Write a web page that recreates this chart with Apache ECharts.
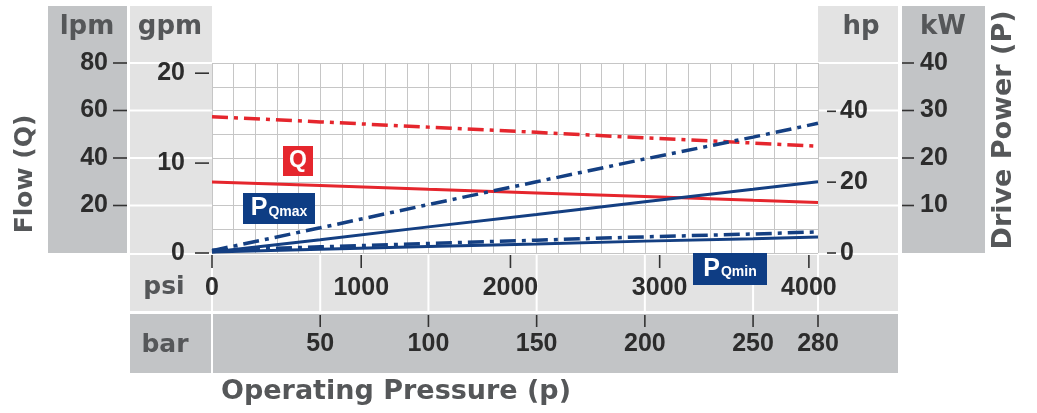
<!DOCTYPE html>
<html><head><meta charset="utf-8">
<script src="https://cdn.jsdelivr.net/npm/echarts@6/dist/echarts.min.js"></script>
<style>html,body{margin:0;padding:0;background:#fff}#c{width:1037px;height:413px}</style>
</head><body><div id="c"></div>
<script>
// ---- data ----
const pressureBar = [0, 50, 100, 150, 200, 250, 280];           // x positions (bar)
const flowQmax    = [57.4, 55.2, 53.0, 50.8, 48.5, 46.3, 45.0];  // lpm, red dash-dot
const flowQmin    = [29.9, 28.4, 26.8, 25.3, 23.8, 22.2, 21.3];  // lpm, red solid
const powerQmaxA  = [0.5, 5.3, 10.2, 15.0, 19.8, 24.4, 27.3];    // kW, blue dash-dot upper
const powerQmaxB  = [0.2, 2.8, 5.5, 8.1, 10.8, 13.4, 15.0];      // kW, blue solid upper
const powerQminA  = [0.6, 1.3, 2.0, 2.7, 3.4, 4.0, 4.45];        // kW, blue dash-dot lower
const powerQminB  = [0.2, 0.8, 1.35, 1.9, 2.5, 3.0, 3.35];       // kW, blue solid lower
const psiTicks = [0, 1000, 2000, 3000, 4000];
const barTicks = [50, 100, 150, 200, 250, 280];
const lpmTicks = [20, 40, 60, 80];
const gpmTicks = [0, 10, 20];
const hpTicks  = [0, 20, 40];
const kwTicks  = [10, 20, 30, 40];
const BAR_MAX = 280, LPM_MAX = 80, KW_MAX = 40;
const PSI_PER_BAR = 14.5038, LPM_PER_GPM = 3.78541, KW_PER_HP = 0.745700;

const RED = '#e5262d', BLUE = '#143f82';
const NUM_FONT = 'Liberation Sans, Arial, sans-serif';
const TITLE_FONT = 'DejaVu Sans, sans-serif';
const numLabel = {fontFamily: NUM_FONT, fontSize: 25, fontWeight: 'bold', color: '#2c2c2c', formatter: v => String(v)};
const DASHDOT = [16, 6, 4, 6];

const pairs = (ys) => pressureBar.map((x, i) => [x, ys[i]]);
const noAxisParts = {axisLine: {show: false}, axisTick: {show: false}, splitLine: {show: false}};

const chart = echarts.init(document.getElementById('c'), null, {renderer: 'canvas'});
const option = {
  animation: false,
  grid: {left: 212, top: 63, width: 606, height: 190, show: false},
  xAxis: [
    Object.assign({ // bar (series axis + vertical grid lines)
      type: 'value', min: 0, max: BAR_MAX, interval: 10, position: 'top',
      axisLabel: {show: false}}, noAxisParts,
      {splitLine: {show: true, lineStyle: {color: '#c6c6c6', width: 1}}}),
    Object.assign({ // psi labels
      type: 'value', min: 0, max: BAR_MAX * PSI_PER_BAR, position: 'bottom', offset: 0,
      axisLabel: Object.assign({margin: 23, customValues: psiTicks}, numLabel)}, noAxisParts),
    Object.assign({ // bar labels
      type: 'value', min: 0, max: BAR_MAX, position: 'bottom', offset: 62,
      axisLabel: Object.assign({margin: 17, customValues: barTicks}, numLabel)}, noAxisParts)
  ],
  yAxis: [
    Object.assign({ // lpm (series axis + horizontal grid lines)
      type: 'value', min: 0, max: LPM_MAX, interval: 10, position: 'left',
      axisLabel: {show: false}}, noAxisParts,
      {splitLine: {show: true, lineStyle: {color: '#c6c6c6', width: 1}}}),
    Object.assign({ // lpm labels
      type: 'value', min: 0, max: LPM_MAX, position: 'left', offset: 85,
      axisLabel: Object.assign({margin: 19, customValues: lpmTicks}, numLabel)}, noAxisParts),
    Object.assign({ // gpm
      type: 'value', min: 0, max: LPM_MAX / LPM_PER_GPM, position: 'left', offset: 3,
      axisLabel: Object.assign({margin: 24, customValues: gpmTicks}, numLabel)}, noAxisParts),
    Object.assign({ // hp
      type: 'value', min: 0, max: KW_MAX / KW_PER_HP, position: 'right', offset: 9,
      axisLabel: Object.assign({margin: 13, customValues: hpTicks}, numLabel)}, noAxisParts),
    Object.assign({ // kW
      type: 'value', min: 0, max: KW_MAX, position: 'right', offset: 84,
      axisLabel: Object.assign({margin: 18, customValues: kwTicks}, numLabel)}, noAxisParts)
  ],
  series: [
    {type: 'line', xAxisIndex: 0, yAxisIndex: 0, data: pairs(flowQmax), symbol: 'none', z: 5,
     lineStyle: {color: RED, width: 3.5, type: DASHDOT}},
    {type: 'line', xAxisIndex: 0, yAxisIndex: 0, data: pairs(flowQmin), symbol: 'none', z: 5,
     lineStyle: {color: RED, width: 3}},
    {type: 'line', xAxisIndex: 0, yAxisIndex: 4, data: pairs(powerQmaxA), symbol: 'none', z: 6,
     lineStyle: {color: BLUE, width: 3.5, type: DASHDOT}},
    {type: 'line', xAxisIndex: 0, yAxisIndex: 4, data: pairs(powerQmaxB), symbol: 'none', z: 6,
     lineStyle: {color: BLUE, width: 3}},
    {type: 'line', xAxisIndex: 0, yAxisIndex: 4, data: pairs(powerQminA), symbol: 'none', z: 6,
     lineStyle: {color: BLUE, width: 3.5, type: DASHDOT}},
    {type: 'line', xAxisIndex: 0, yAxisIndex: 4, data: pairs(powerQminB), symbol: 'none', z: 6,
     lineStyle: {color: BLUE, width: 3}}
  ]
};
chart.setOption(option);

// ---- decorations (panels, separators, ticks, titles, tags) ----
const LIGHT = '#e3e3e3', DARK = '#c2c4c6', TICK = '#333333';
const px = v => chart.convertToPixel({xAxisIndex: 0}, v);
const pxPsi = v => chart.convertToPixel({xAxisIndex: 1}, v);
const py = v => chart.convertToPixel({yAxisIndex: 0}, v);
const pyGpm = v => chart.convertToPixel({yAxisIndex: 2}, v);
const pyHp = v => chart.convertToPixel({yAxisIndex: 3}, v);
const pyKw = v => chart.convertToPixel({yAxisIndex: 4}, v);
const els = [];
const rect = (x, y, w, h, fill, z) => els.push({type: 'rect', shape: {x, y, width: w, height: h}, style: {fill}, z: z || -20, silent: true});
const seg = (x1, y1, x2, y2, color, w, z) => els.push({type: 'line', shape: {x1, y1, x2, y2}, style: {stroke: color, lineWidth: w}, z: z, silent: true});
const wline = (x1, y1, x2, y2) => seg(x1, y1, x2, y2, '#ffffff', 2, -10);
const tick = (x1, y1, x2, y2) => seg(x1, y1, x2, y2, TICK, 1.6, 10);

const plotL = px(0), plotR = px(BAR_MAX), plotB = py(0), plotT = py(LPM_MAX);
// plot background
rect(plotL, plotT, plotR - plotL, plotB - plotT, '#ffffff', -15);
// light panels
rect(130, 6, plotL - 130, plotB - 6, LIGHT);
rect(plotR, 6, 898 - plotR, plotB - 6, LIGHT);
rect(130, plotB + 2, 898 - 130, 311 - plotB - 2, LIGHT);
// dark panels
rect(48, 6, 79, plotB - 6, DARK);
rect(902, 6, 83, plotB - 6, DARK);
rect(130, 314, 898 - 130, 59, DARK);
// white separators
lpmTicks.forEach(v => wline(130, py(v), plotL, py(v)));
kwTicks.forEach(v => wline(plotR, pyKw(v), 902, pyKw(v)));
barTicks.forEach(v => wline(px(v), plotB + 2, px(v), 312));
wline(px(0), plotB + 2, px(0), 373);
// ticks
lpmTicks.forEach(v => tick(113, py(v), 127, py(v)));
gpmTicks.forEach(v => tick(195, pyGpm(v), 209, pyGpm(v)));
hpTicks.forEach(v => tick(plotR + 9, pyHp(v), plotR + 18, pyHp(v)));
kwTicks.forEach(v => tick(902, pyKw(v), 914, pyKw(v)));
psiTicks.forEach(v => tick(pxPsi(v), plotB + 2, pxPsi(v), plotB + 15));
barTicks.forEach(v => tick(px(v), 315, px(v), 327));

const title = (text, x, y, size, extra) => els.push(Object.assign({type: 'text', x, y, z: 20, silent: true,
  style: {text, fontFamily: TITLE_FONT, fontWeight: 'bold', fontSize: size, fill: '#555759', align: 'center', verticalAlign: 'middle'}}, extra || {}));
title('lpm', 87, 27, 26);
title('gpm', 170, 27, 26);
title('hp', 861, 27, 26);
title('kW', 943, 27, 26);
title('psi', 164, 287, 25);
title('bar', 165, 345, 25);
title('Operating Pressure (p)', 396, 392, 27);
title('Flow (Q)', 25, 174, 25, {rotation: Math.PI / 2});
title('Drive Power (P)', 1004, 130, 27, {rotation: Math.PI / 2});

// series tags
const tag = (x, y, w, h, fill, rich, text) => {
  els.push({type: 'rect', shape: {x, y, width: w, height: h}, style: {fill}, z: 30, silent: true});
  els.push({type: 'text', x: x + w / 2, y: y + h / 2, z: 31, silent: true,
    style: {text, rich, align: 'center', verticalAlign: 'middle'}});
};
const richP = {
  p: {fontFamily: 'Liberation Sans, Arial', fontWeight: 'bold', fontSize: 25, fill: '#ffffff', verticalAlign: 'bottom'},
  s: {fontFamily: 'Liberation Sans, Arial', fontWeight: 'bold', fontSize: 14, fill: '#ffffff', verticalAlign: 'bottom', padding: [0, 0, 2, 1]}
};
tag(283, 146, 30, 30, RED, {q: {fontFamily: 'Liberation Sans, Arial', fontWeight: 'bold', fontSize: 23, fill: '#ffffff'}}, '{q|Q}');
tag(243, 193, 72, 31, '#0e3d84', richP, '{p|P}{s|Qmax}');
tag(693, 253, 74, 32, '#0e3d84', richP, '{p|P}{s|Qmin}');

chart.setOption({graphic: {elements: els}});
</script>
</body></html>
